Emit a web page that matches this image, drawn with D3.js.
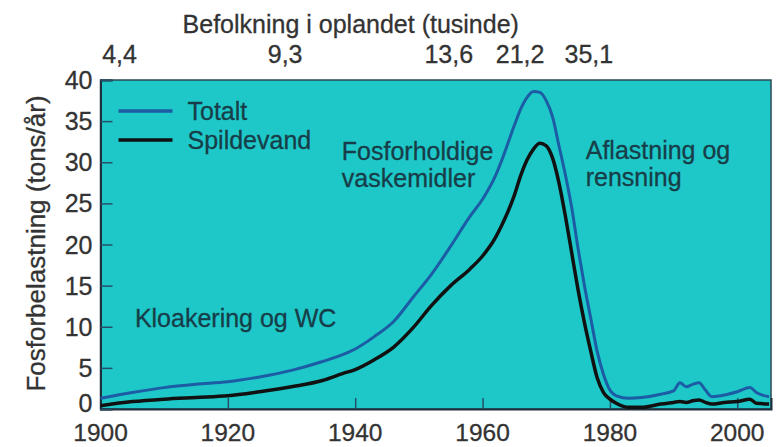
<!DOCTYPE html>
<html>
<head>
<meta charset="utf-8">
<script src="https://cdn.jsdelivr.net/npm/d3@7"></script>
<style>
  body { margin: 0; background: #fff; }
  text { font-family: "Liberation Sans", Arial, sans-serif; }
</style>
</head>
<body>
<div id="chart"></div>
<script>
// data
var years = [1900,1905,1910,1915,1920,1925,1930,1935,1938,1940,1943,1946,1949,1952,1955,1958,1960,1962,1963,1965,1966,1967,1968,1969,1970,1971,1972,1973,1974,1975,1976,1977,1978,1979,1980,1981,1983,1985,1988,1990,1991,1992,1993,1994,1995,1996,1998,2000,2002,2003,2005];
var totalt = [1.3,2.0,2.6,3.0,3.3,3.9,4.7,5.8,6.6,7.3,8.8,10.6,13.5,16.4,19.8,23.4,25.5,28.3,30.2,34.5,36.5,37.9,38.6,38.5,37.5,35.5,32.0,28.5,24.5,19.5,15.0,11.0,7.0,4.2,2.3,1.6,1.3,1.4,1.8,2.2,3.2,2.7,3.0,3.2,2.3,1.5,1.7,2.1,2.6,2.0,1.5];
var spildevand = [0.4,0.9,1.2,1.4,1.6,2.1,2.7,3.5,4.3,4.8,6.0,7.5,9.8,12.6,15.0,17.0,18.6,20.8,22.3,26.0,28.4,30.3,31.6,32.3,32.0,30.5,27.5,23.5,19.0,14.5,10.5,7.0,3.8,2.0,1.2,0.7,0.2,0.2,0.6,0.8,0.9,0.8,1.0,1.1,0.8,0.6,0.8,0.9,1.2,0.7,0.6];

var xTicks = [1900,1920,1940,1960,1980,2000];
var yTicks = [0,5,10,15,20,25,30,35,40];
// population (thousands) on the top axis
var popYears = [1903,1929,1954.7,1965.9,1976.7];
var popLabels = ["4,4","9,3","13,6","21,2","35,1"];

var seriesNames = ["Totalt","Spildevand"];
var seriesColors = ["#1c5ca4","#111"];

var notes = [
  {lines:["Kloakering og WC"], year:1905.4, val:10.0},
  {lines:["Fosforholdige","vaskemidler"], year:1937.9, val:30.3},
  {lines:["Aflastning og","rensning"], year:1976.2, val:30.4}
];

var W = 776, H = 447;
var margin = {top: 80, right: 5, bottom: 38, left: 100.5},
    width = W - margin.left - margin.right,
    height = H - margin.top - margin.bottom;

var x = d3.scaleLinear().domain([1900, 2005.3]).range([0, width]);
var y = d3.scaleLinear().domain([0, 40]).range([height, 0]);

var svg = d3.select("#chart").append("svg")
    .attr("width", W).attr("height", H);
var g = svg.append("g")
    .attr("transform", "translate(" + margin.left + "," + margin.top + ")");

g.append("rect")
    .attr("width", width).attr("height", height)
    .attr("fill", "#1ec8c9")
    .attr("stroke", "#2b4a55").attr("stroke-width", 1.5);

function txt(sel, px, py, s, anchor, color, size) {
  return sel.append("text")
    .attr("x", px).attr("y", py)
    .attr("text-anchor", anchor || "start")
    .attr("fill", color || "#333")
    .attr("stroke", color || "#333").attr("stroke-width", 0.3)
    .style("font-size", (size || 25) + "px")
    .text(s);
}

// axes (ticks point inward)
var xAxis = g.append("g")
    .attr("transform", "translate(0," + height + ")")
    .call(d3.axisBottom(x).tickValues(xTicks).tickSize(-11).tickFormat(""));
var yAxis = g.append("g")
    .call(d3.axisLeft(y).tickValues(yTicks).tickSize(-12).tickFormat(""));
[xAxis, yAxis].forEach(function(a) {
  a.select(".domain").attr("stroke", "#1d2f3a").attr("stroke-width", 2);
  a.selectAll(".tick line").attr("stroke", "#24506a").attr("stroke-width", 1.5);
});

// bottom labels sit right at the lower edge of the picture
xTicks.forEach(function(t) { txt(g, x(t), height + 32, t, "middle", null, 24.5); });
// the "0" sits a bit higher in the picture, clear of "1900"
yTicks.forEach(function(t) { txt(g, -8, y(t) + (t == 0 ? 3 : 9), t, "end"); });

// top axis labels
popYears.forEach(function(yr, i) { txt(g, x(yr), -17, popLabels[i], "middle"); });
txt(g, x(1939.3), -47, "Befolkning i oplandet (tusinde)", "middle");

// y title
g.append("text")
    .attr("transform", "translate(-56," + (height / 2 - 1) + ") scale(1,1.04) rotate(-90)")
    .attr("text-anchor", "middle")
    .attr("fill", "#333").attr("stroke", "#333").attr("stroke-width", 0.3)
    .style("font-size", "25px")
    .text("Fosforbelastning (tons/år)");

// lines
var line = d3.line()
    .x(function(d) { return x(d[0]); })
    .y(function(d) { return y(d[1]); })
    .curve(d3.curveMonotoneX);

[totalt, spildevand].forEach(function(vals, i) {
  var data = years.map(function(yr, j) { return [yr, vals[j]]; });
  g.append("path")
      .datum(data)
      .attr("fill", "none")
      .attr("stroke", seriesColors[i])
      .attr("stroke-width", i == 0 ? 3 : 3.5)
      .attr("stroke-linejoin", "round")
      .attr("d", line);
});

// legend
seriesNames.forEach(function(n, i) {
  var ly = 31 + i * 29;
  g.append("line")
      .attr("x1", 18).attr("x2", 72)
      .attr("y1", ly).attr("y2", ly)
      .attr("stroke", seriesColors[i]).attr("stroke-width", 3.5);
  txt(g, 87, ly + 9, n, "start", "#173e48");
});

// annotations
notes.forEach(function(n) {
  n.lines.forEach(function(s, k) {
    txt(g, x(n.year), y(n.val) + k * 27, s, "start", "#173e48");
  });
});
</script>
</body>
</html>
